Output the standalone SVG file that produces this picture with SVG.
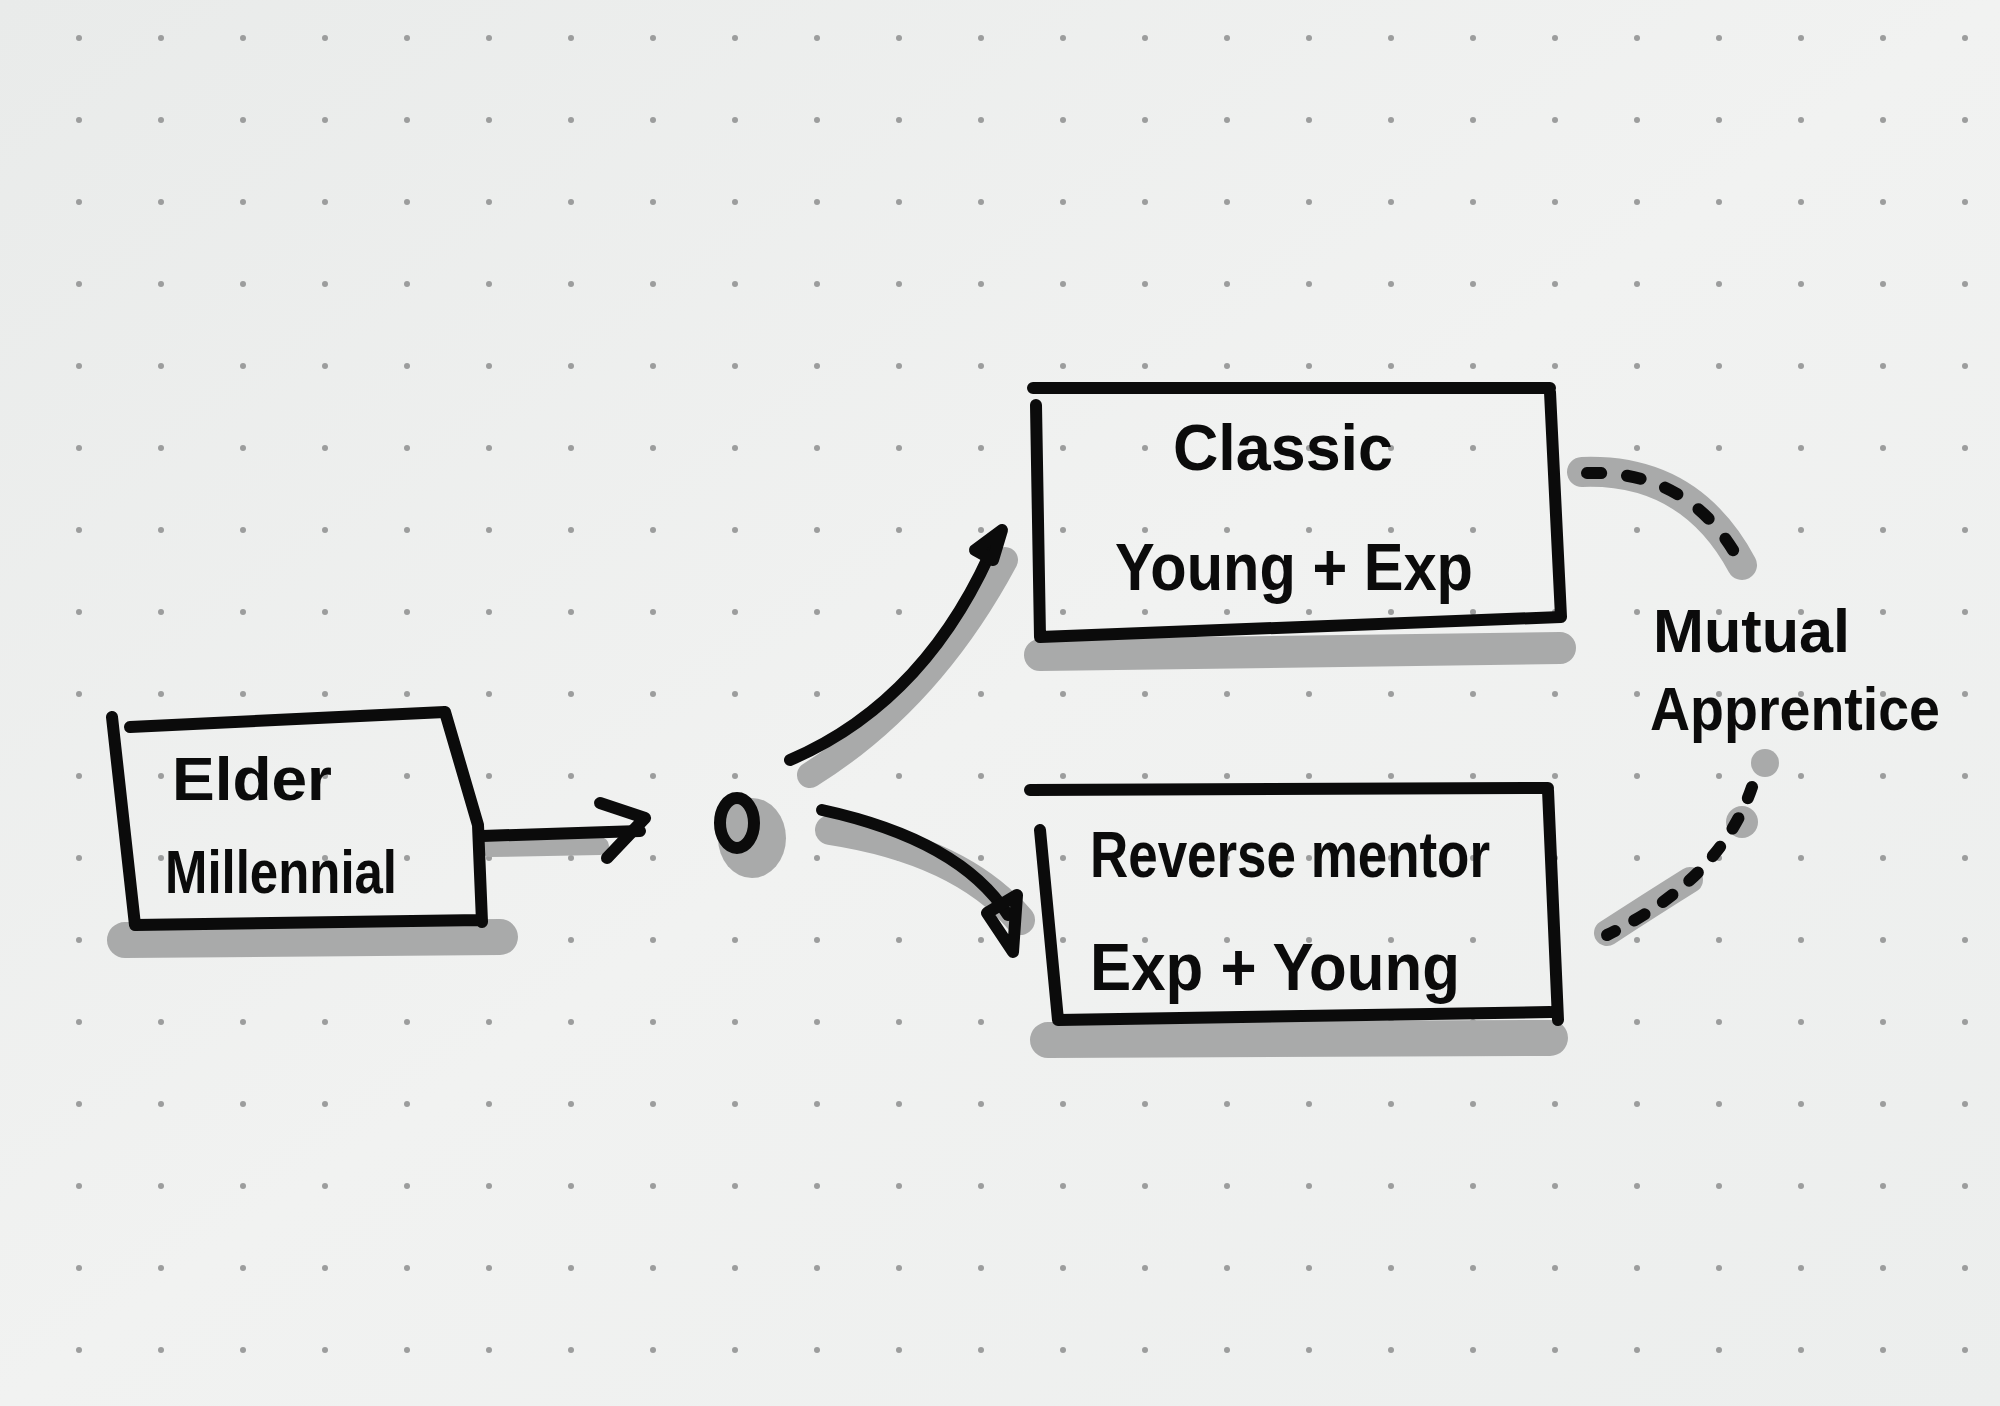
<svg xmlns="http://www.w3.org/2000/svg" width="2000" height="1406" viewBox="0 0 2000 1406">
<defs>
<pattern id="dots" width="82" height="82" patternUnits="userSpaceOnUse" x="38" y="-3">
<circle cx="41" cy="41" r="3" fill="#9c9d9d"/>
</pattern>
<linearGradient id="paper" x1="0" y1="0" x2="1" y2="1">
<stop offset="0" stop-color="#e9ebea"/>
<stop offset="0.5" stop-color="#f1f2f1"/>
<stop offset="1" stop-color="#eceeed"/>
</linearGradient>
</defs>
<style>
.ink{fill:none;stroke:#0b0b0b;stroke-width:12;stroke-linecap:round;stroke-linejoin:round}
.shade{fill:none;stroke:#a9aaaa;stroke-linecap:round;stroke-linejoin:round}
.hand{font-family:"Liberation Sans","DejaVu Sans",sans-serif;font-weight:bold;fill:#0b0b0b}
</style>
<rect width="2000" height="1406" fill="url(#paper)"/>
<rect width="2000" height="1406" fill="url(#dots)"/>

<g id="shadows">
<path class="shade" stroke-width="36" d="M125,940 L500,937"/>
<path class="shade" stroke-width="32" d="M1040,655 L1560,648"/>
<path class="shade" stroke-width="36" d="M1048,1040 L1550,1038"/>
<ellipse cx="752" cy="838" rx="34" ry="40" fill="#a9aaaa"/>
<path class="shade" stroke-width="26" d="M810,775 Q930,700 1005,560"/>
<path class="shade" stroke-width="30" d="M830,830 Q960,850 1020,920"/>
<path class="shade" stroke-width="18" d="M490,848 L600,846"/>
</g>

<g id="elder-millennial">
<path class="ink" d="M112,717 L135,925 M130,727 L445,712 M445,712 L478,825 L482,922 M135,925 L482,920"/>
<text class="hand" x="172" y="800" font-size="62" textLength="160" lengthAdjust="spacingAndGlyphs">Elder</text>
<text class="hand" x="165" y="893" font-size="62" textLength="232" lengthAdjust="spacingAndGlyphs">Millennial</text>
</g>

<g id="hub">
<ellipse cx="737" cy="823" rx="17" ry="25" fill="none" stroke="#0b0b0b" stroke-width="12"/>
</g>

<g id="classic">
<path class="ink" d="M1033,388 L1550,388 M1550,392 L1561,617 M1036,405 L1040,637 M1040,637 L1561,617"/>
<text class="hand" x="1283" y="470" font-size="64" text-anchor="middle" textLength="220" lengthAdjust="spacingAndGlyphs">Classic</text>
<text class="hand" x="1115" y="590" font-size="66" textLength="358" lengthAdjust="spacingAndGlyphs">Young + Exp</text>
</g>

<g id="reverse-mentor">
<path class="ink" d="M1030,790 L1548,788 M1548,790 L1558,1020 M1040,830 L1058,1020 M1058,1020 L1550,1012"/>
<text class="hand" x="1090" y="877" font-size="64" textLength="400" lengthAdjust="spacingAndGlyphs">Reverse mentor</text>
<text class="hand" x="1090" y="990" font-size="66" textLength="370" lengthAdjust="spacingAndGlyphs">Exp + Young</text>
</g>

<g id="mutual-apprentice">
<text class="hand" x="1653" y="652" font-size="62" textLength="197" lengthAdjust="spacingAndGlyphs">Mutual</text>
<text class="hand" x="1650" y="730" font-size="62" textLength="290" lengthAdjust="spacingAndGlyphs">Apprentice</text>
</g>

<g id="connectors">
<path class="ink" d="M482,836 L640,831"/>
<path class="ink" d="M600,803 L645,818 L607,858"/>
<path class="ink" d="M790,760 Q930,700 998,535"/>
<path class="ink" stroke-width="10" d="M975,550 L1002,530 L993,560 Z"/>
<path class="ink" d="M822,810 Q960,840 1008,915"/>
<path class="ink" stroke-width="10" d="M987,913 L1017,895 L1013,952 Z"/>
<path class="shade" stroke-width="30" d="M1582,472 Q1690,468 1742,565"/>
<path class="ink" stroke-width="11" stroke-dasharray="14 26" d="M1587,473 Q1690,470 1740,562"/>
<circle cx="1765" cy="763" r="14" fill="#a9aaaa"/>
<circle cx="1742" cy="822" r="16" fill="#a9aaaa"/>
<path class="shade" stroke-width="26" d="M1607,933 Q1650,905 1690,880"/>
<path class="ink" stroke-width="10" stroke-dasharray="12 22" d="M1752,787 Q1720,880 1607,935"/>
</g>
</svg>
